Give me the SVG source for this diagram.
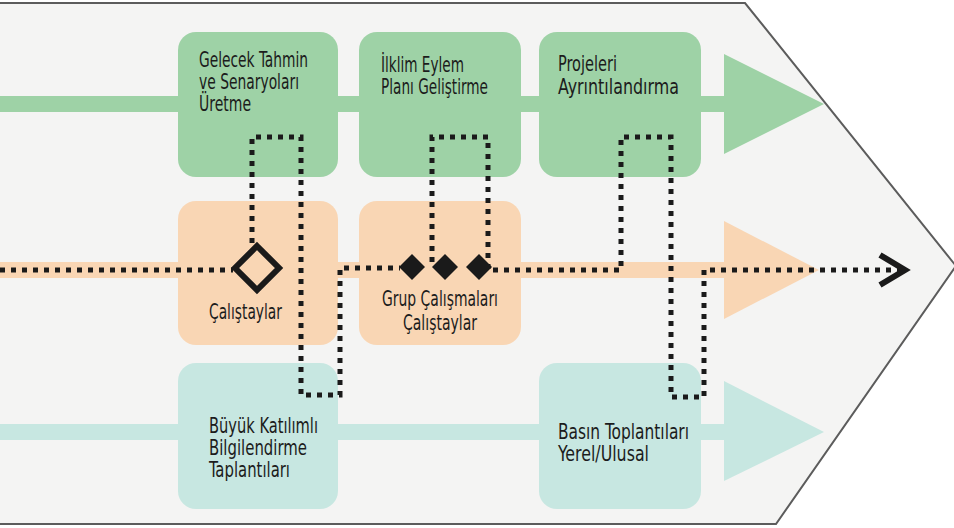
<svg xmlns="http://www.w3.org/2000/svg" width="954" height="528" viewBox="0 0 954 528">
  <style>
    .green { fill: #9ed2a6; }
    .peach { fill: #f9d6b4; }
    .aqua { fill: #c7e7e1; }
    .label { font-family: "DejaVu Sans Condensed", "DejaVu Sans", "Liberation Sans", sans-serif; font-size: 20.5px; fill: #1c1c1c; }
    .dots { fill: none; stroke: #1a1a1a; stroke-width: 5; stroke-dasharray: 5 6; }
  </style>

  <!-- backdrop: pointed panel -->
  <polygon points="-2,3 745,3 956,266 776,524 -2,524" fill="#f4f4f3" stroke="#5c5c5c" stroke-width="2"/>

  <!-- lane bands and arrowheads -->
  <g id="lanes">
    <rect class="green" x="0" y="96" width="730" height="16"/>
    <polygon class="green" points="724,54 824,104 724,154"/>
    <rect class="peach" x="0" y="262" width="730" height="16"/>
    <polygon class="peach" points="724,221 819,270 724,319"/>
    <rect class="aqua" x="0" y="424" width="730" height="16"/>
    <polygon class="aqua" points="724,381 824,432 724,481"/>
  </g>

  <!-- top lane -->
  <g id="gelecek-tahmin">
    <rect class="green" x="178" y="32" width="160" height="145" rx="18"/>
    <text class="label" x="199" y="67" textLength="109" lengthAdjust="spacingAndGlyphs">Gelecek Tahmin</text>
    <text class="label" x="199" y="89" textLength="100" lengthAdjust="spacingAndGlyphs">ve Senaryoları</text>
    <text class="label" x="199" y="111" textLength="52" lengthAdjust="spacingAndGlyphs">Üretme</text>
  </g>
  <g id="iklim-eylem">
    <rect class="green" x="359" y="32" width="162" height="145" rx="18"/>
    <text class="label" x="381" y="72" textLength="83" lengthAdjust="spacingAndGlyphs">İlklim Eylem</text>
    <text class="label" x="381" y="94" textLength="107" lengthAdjust="spacingAndGlyphs">Planı Geliştirme</text>
  </g>
  <g id="projeleri">
    <rect class="green" x="539" y="32" width="162" height="145" rx="18"/>
    <text class="label" x="558" y="71" textLength="59" lengthAdjust="spacingAndGlyphs">Projeleri</text>
    <text class="label" x="558" y="94" textLength="121" lengthAdjust="spacingAndGlyphs">Ayrıntılandırma</text>
  </g>

  <!-- middle lane -->
  <g id="calistaylar">
    <rect class="peach" x="178" y="201" width="160" height="144" rx="18"/>
    <text class="label" x="209" y="319" textLength="73" lengthAdjust="spacingAndGlyphs">Çalıştaylar</text>
  </g>
  <g id="grup-calismalari">
    <rect class="peach" x="359" y="201" width="162" height="144" rx="18"/>
    <text class="label" x="382" y="306" textLength="116" lengthAdjust="spacingAndGlyphs">Grup Çalışmaları</text>
    <text class="label" x="403" y="330" textLength="74" lengthAdjust="spacingAndGlyphs">Çalıştaylar</text>
  </g>

  <!-- bottom lane -->
  <g id="buyuk-katilimli">
    <rect class="aqua" x="178" y="363" width="160" height="146" rx="18"/>
    <text class="label" x="209" y="433" textLength="109" lengthAdjust="spacingAndGlyphs">Büyük Katılımlı</text>
    <text class="label" x="209" y="455" textLength="98" lengthAdjust="spacingAndGlyphs">Bilgilendirme</text>
    <text class="label" x="209" y="477" textLength="81" lengthAdjust="spacingAndGlyphs">Taplantıları</text>
  </g>
  <g id="basin-toplantilari">
    <rect class="aqua" x="539" y="363" width="162" height="146" rx="18"/>
    <text class="label" x="558" y="439" textLength="131" lengthAdjust="spacingAndGlyphs">Basın Toplantıları</text>
    <text class="label" x="558" y="461" textLength="91" lengthAdjust="spacingAndGlyphs">Yerel/Ulusal</text>
  </g>

  <!-- dotted process path -->
  <g id="connectors">
    <path class="dots" d="M0,270 H233"/>
    <path class="dots" d="M252,243 V137 H301 V395 H340 V268 H400"/>
    <path class="dots" d="M432,262 V137 H488 V270 H621 V137 H671 V397 H704 V270 H900"/>
    <polyline points="880,255 905,270 880,285" fill="none" stroke="#1a1a1a" stroke-width="6"/>
    <!-- milestones -->
    <polygon points="257,246 279,268 257,290 235,268" fill="none" stroke="#1a1a1a" stroke-width="6"/>
    <polygon points="412,254 425,267 412,280 399,267" fill="#1a1a1a"/>
    <polygon points="445,254 458,267 445,280 432,267" fill="#1a1a1a"/>
    <polygon points="479,254 492,267 479,280 466,267" fill="#1a1a1a"/>
  </g>
</svg>
